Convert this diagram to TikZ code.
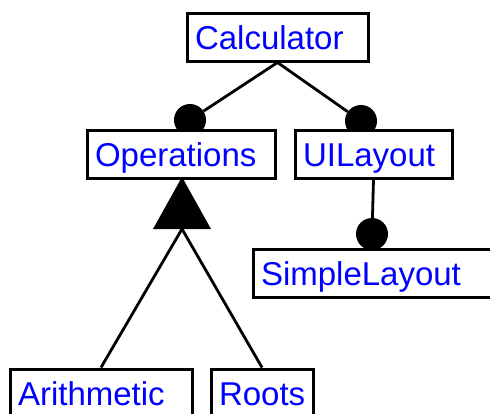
\documentclass[tikz,border=0pt]{standalone}
\usepackage{fontspec}
\setmainfont{Liberation Sans}
\begin{document}
\begin{tikzpicture}[x=1pt,y=-1pt,
  cls/.style={draw, line width=3pt, fill=white, text=blue,
    font=\fontsize{33}{38}\selectfont, align=left, anchor=north west,
    inner xsep=8pt, inner ysep=0pt, minimum height=48pt,
    text height=25pt, text depth=0pt},
  ball/.style={circle, fill=black, inner sep=0pt, minimum size=32pt},
  link/.style={line width=2.8pt}]
\clip (0,0) rectangle (490,413);
% aggregation dots sit behind the class boxes
\node[ball] (opsdot) at (190,120) {};
\node[ball] (uidot) at (361,121) {};
\node[ball] (simpledot) at (372,234) {};
% classes
\node[cls, text width=165pt] (calc) at (185.5,11.5) {Calculator};
\node[cls, text width=172pt] (ops) at (85.5,128.5) {Operations};
\node[cls, text width=141pt] (ui) at (293.5,128.5) {UILayout};
\node[cls, text width=244pt] (simple) at (251.5,247.5) {SimpleLayout};
\node[cls, text width=166pt] (arith) at (8.5,367.5) {Arithmetic};
\node[cls, text width=86pt] (roots) at (209.5,367.5) {Roots};
% aggregation links
\draw[link] (calc.south) -- (opsdot);
\draw[link] (calc.south) -- (uidot);
\draw[link] (ui.south) -- (simpledot);
% generalisation triangle
\coordinate (apex) at (182,177);
\coordinate (base) at (182,229);
\fill (apex) -- ([xshift=-29pt]base) -- ([xshift=29pt]base) -- cycle;
\draw[link] (base) -- (arith.north);
\draw[link] (base) -- (roots.north);
\end{tikzpicture}
\end{document}
